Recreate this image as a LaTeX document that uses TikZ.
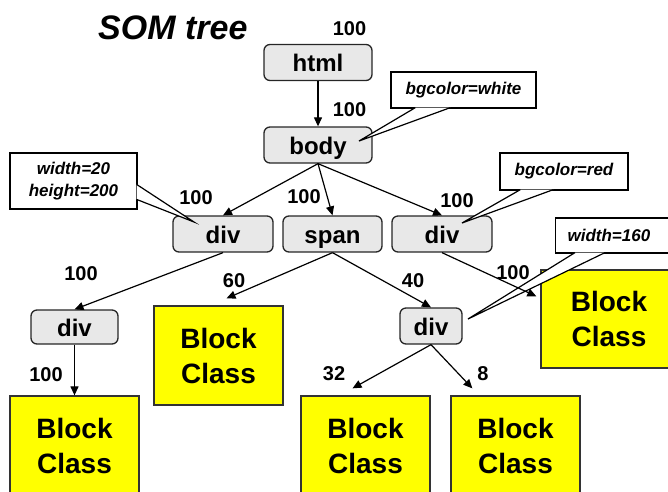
\documentclass[tikz,border=0pt]{standalone}
\usepackage{fontspec}
\setmainfont{Liberation Sans}
\usetikzlibrary{calc,arrows.meta}

\definecolor{tagfill}{HTML}{E8E8E8}
\definecolor{blockfill}{HTML}{FFFF00}

\begin{document}
\begin{tikzpicture}[x=1pt,y=-1pt,
    >={Triangle[length=9pt,width=8pt]},
    tag/.style={draw=black!85, line width=1.3pt, rounded corners=6pt, fill=tagfill, inner sep=0pt,
        minimum height=36pt, text height=18pt, text depth=0pt, font=\fontsize{24}{28}\selectfont\bfseries},
    block/.style={draw=black!80, line width=1.3pt, fill=blockfill, inner sep=0pt, minimum width=129pt,
        minimum height=99pt, align=center, font=\fontsize{28}{35}\selectfont\bfseries},
    pointer/.style={draw=black, line width=1.2pt, fill=white},
    note/.style={pointer, inner sep=0pt, align=center, font=\fontsize{17}{22}\selectfont\bfseries\itshape},
    num/.style={inner sep=0pt, font=\fontsize{20}{24}\selectfont\bfseries},
    edge/.style={->, line width=1.2pt}]
        \useasboundingbox (0,0) rectangle (668,491);
        \clip (0,0) rectangle (668,491);

        % Title
        \node[anchor=west, inner sep=0pt, font=\fontsize{34}{40}\selectfont\bfseries\itshape] (title) at (98,28) {SOM tree};

        % Tree nodes
        \node[tag, minimum width=108pt] (html) at (318,62.5) {html};
        \node[tag, minimum width=108pt] (body) at (318,145) {body};
        \node[tag, minimum width=100pt] (divl) at (223,234) {div};
        \node[tag, minimum width=99pt] (span) at (332.5,234) {span};
        \node[tag, minimum width=100pt] (divr) at (442,234) {div};
        \node[tag, minimum width=87pt, minimum height=34pt] (diva) at (74.5,327) {div};
        \node[tag, minimum width=62pt] (divb) at (431,326) {div};

        % Block classes
        \node[block] (blka) at (74.5,445.5) {Block\\Class};
        \node[block] (blkb) at (218.5,355.5) {Block\\Class};
        \node[block] (blkc) at (365.5,445.5) {Block\\Class};
        \node[block] (blkd) at (515.5,445.5) {Block\\Class};
        \node[block, minimum width=136pt, minimum height=98pt] (blke) at (609,319) {Block\\Class};

        % Notes with pointers
        \node[note, minimum width=145pt, minimum height=36pt] (cw) at (463.5,90) {bgcolor=white};
        \coordinate (tw) at (359,141);
        \draw[pointer] ($(cw.south west)+(25,-1)$) -- (tw) -- ($(cw.south west)+(60,-1)$);

        \node[note, minimum width=127pt, minimum height=56pt] (cl) at (73.5,181) {width=20\\height=200};
        \coordinate (tl) at (194,222);
        \draw[pointer] ($(cl.north east)+(-1,32)$) -- (tl) -- ($(cl.north east)+(-1,47)$);

        \node[note, minimum width=128pt, minimum height=37pt] (cr) at (564,171.5) {bgcolor=red};
        \coordinate (tr) at (462,223);
        \draw[pointer] ($(cr.south west)+(21,-1)$) -- (tr) -- ($(cr.south west)+(54,-1)$);

        \node[note, anchor=west, minimum height=35pt, text width=130pt, inner xsep=12pt, align=left] (cv) at (555,235.5) {width=160};
        \coordinate (tv) at (468,319);
        \draw[pointer] ($(cv.south west)+(20,-1)$) -- (tv) -- ($(cv.south west)+(50,-1)$);

        % Edges
        \draw[edge] (html.south) -- (body.north);
        \draw[edge] (body.south) -- (divl.north);
        \draw[edge] (body.south) -- (span.north);
        \draw[edge] (body.south) -- (divr.north);
        \draw[edge] (divl.south) -- (diva.north);
        \draw[edge] (span.south) -- ($(blkb.north)+(8,-7)$);
        \draw[edge] (span.south) -- (divb.north);
        \draw[edge] (divr.south) -- ($(blke.north west)+(-4,27)$);
        \draw[edge] (diva.south) -- (blka.north);
        \draw[edge] (divb.south) -- ($(blkc.north)+(-13,-7)$);
        \draw[edge] (divb.south) -- ($(blkd.north west)+(22,-7)$);

        % Weights
        \node[num] (w1) at (349.5,29) {100};
        \node[num] (w2) at (349.5,110) {100};
        \node[num] (w3) at (196,198) {100};
        \node[num] (w4) at (304,197) {100};
        \node[num] (w5) at (457,201) {100};
        \node[num] (w6) at (81,274) {100};
        \node[num] (w7) at (234,281) {60};
        \node[num] (w8) at (413,281) {40};
        \node[num] (w9) at (513,273) {100};
        \node[num] (w10) at (46,375) {100};
        \node[num] (w11) at (334,374) {32};
        \node[num] (w12) at (483,374) {8};
    \end{tikzpicture}
\end{document}
